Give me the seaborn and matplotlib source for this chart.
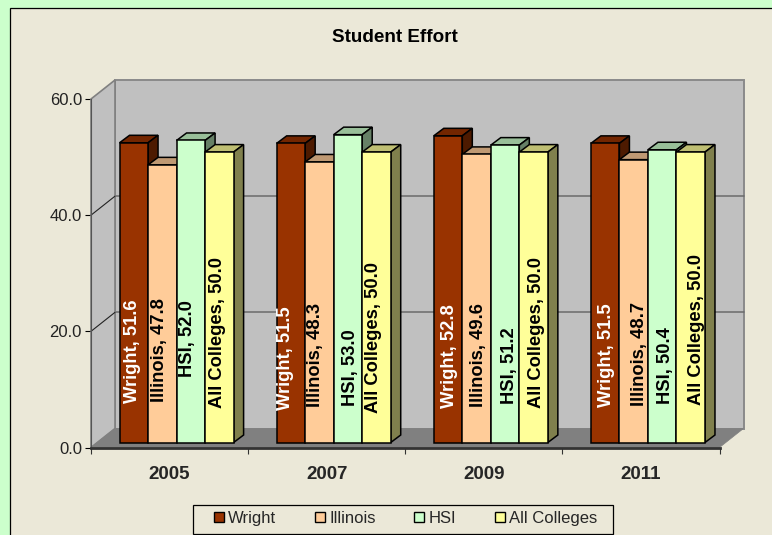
import pandas as pd
import matplotlib
matplotlib.use('Agg')
import matplotlib.pyplot as plt
import seaborn as sns
from matplotlib.colors import to_rgb
from matplotlib.patches import Polygon, Rectangle
from matplotlib.transforms import Affine2D, IdentityTransform, blended_transform_factory

W, H = 772, 535

years = ['2005', '2007', '2009', '2011']
groups = ['Wright', 'Illinois', 'HSI', 'All Colleges']
wright = [51.6, 51.5, 52.8, 51.5]
illinois = [47.8, 48.3, 49.6, 48.7]
hsi = [52.0, 53.0, 51.2, 50.4]
all_colleges = [50.0, 50.0, 50.0, 50.0]
colors = ['#993300', '#FFCC99', '#CCFFCC', '#FFFF99']
label_colors = ['white', 'black', 'black', 'black']
y_ticks = [0, 20, 40, 60]

# label centres, pixels from the top of the picture, one row per group
label_rows = [[351.5, 358, 356, 355],
              [350.5, 355, 355.5, 353.5],
              [338.5, 368, 366, 365.5],
              [333, 337.5, 332, 329.5]]
# sideways nudge of each label from the middle of its bar, pixels
label_nudge = [[-4, -8, -1, -1],
               [-5, -6, -1, 3],
               [-6, 0, 2, 1],
               [-4.5, -5, 0, 3]]

rows = []
for g, vals in zip(groups, [wright, illinois, hsi, all_colleges]):
    for yr, v in zip(years, vals):
        rows.append({'year': yr, 'group': g, 'value': v})
df = pd.DataFrame(rows)

sns.set_style('white')
plt.rcParams['font.family'] = ['Liberation Sans', 'DejaVu Sans']

BG = '#EBE8D8'
fig = plt.figure(figsize=(W / 100, H / 100), dpi=100, facecolor='#CCFFCC')

# frame, everything in pixels from the top left of the picture
def px(x, y):
    return (x, H - y)

fig.add_artist(Rectangle(px(10, 540), 800, 532, transform=IdentityTransform(),
                         facecolor=BG, edgecolor='black', linewidth=0.9, zorder=-5))

# axes = front plane of the 3d box
x0, x1, y_top, y_bot = 91, 719.5, 99, 447.5
ax = fig.add_axes([x0 / W, (H - y_bot) / H, (x1 - x0) / W, (y_bot - y_top) / H])
ax.patch.set_visible(False)

sns.barplot(data=df, x='year', y='value', hue='group', order=years, hue_order=groups,
            palette=colors, width=0.726, saturation=1, edgecolor='black', linewidth=1.1,
            legend=True, ax=ax)
ax.set_xlim(-0.5, 3.5)
ax.set_ylim(0, 60)
ax.set_xlabel('')
ax.set_ylabel('')
ax.set_yticks(y_ticks)
ax.set_yticklabels([f'{t:.1f}' for t in y_ticks])
ax.set_xticks([i - 0.5 for i in range(5)], minor=True)
ax.tick_params(axis='x', which='minor', bottom=True, length=4.5, width=0.8, color='#333333')
ax.tick_params(axis='x', which='major', bottom=False, pad=10)
ax.tick_params(axis='y', left=True, length=4.5, width=0.8, color='black', pad=2)
for t in ax.get_xticklabels():
    t.set_fontweight('bold')
    t.set_fontsize(13.5)
for t in ax.get_yticklabels():
    t.set_fontsize(12)
    t.set_color('#222222')
for s in ['top', 'right']:
    ax.spines[s].set_visible(False)
ax.spines['left'].set_color('#555555')
ax.spines['left'].set_linewidth(0.8)
ax.spines['bottom'].set_color('#333333')
ax.spines['bottom'].set_linewidth(2)
ax.spines['bottom'].set_zorder(2.5)

# box walls and floor
DX, DY = 24, 19
fig.canvas.draw()
to_disp = ax.transData.transform

def wall(pts, **kw):
    ax.add_patch(Polygon(pts, closed=True, transform=IdentityTransform(), clip_on=False, **kw))

def corners(xv, yv):
    a = to_disp((xv, yv))
    return a, a + (DX, DY)

(l0, l0b), (r0, r0b) = corners(-0.5, 0), corners(3.5, 0)
(lt, ltb), (rt, rtb) = corners(-0.5, 60), corners(3.5, 60)
wall([l0b, r0b, rtb, ltb], facecolor='#C0C0C0', edgecolor='#8A8A8A', linewidth=1.4, zorder=0.5)
wall([l0, l0b, ltb, lt], facecolor='#C0C0C0', edgecolor='#808080', linewidth=1.2, zorder=0.6)
wall([l0, r0, r0b, l0b], facecolor='#808080', edgecolor='#808080', linewidth=0.5, zorder=0.7)

for t in y_ticks[1:-1]:
    a, b = corners(-0.5, t)
    c = corners(3.5, t)[1]
    ax.plot([a[0], b[0]], [a[1], b[1]], color='#222222', lw=0.8, transform=IdentityTransform(),
            clip_on=False, zorder=0.8)
    ax.plot([b[0], c[0]], [b[1], c[1]], color='#6A6A6A', lw=1.1, transform=IdentityTransform(),
            clip_on=False, zorder=0.55)

# bars sit a bit inside the box, each one gets a top and a side face
shift = Affine2D().translate(7, 5)
bar_dx, bar_dy = 10, 7.5
n_years = len(years)
bars = [p for c in ax.containers for p in c]
for i, bar in enumerate(bars):
    g_i = i // n_years
    y_i = i % n_years
    xa, xb = bar.get_x(), bar.get_x() + bar.get_width()
    h = bar.get_height()
    pa, pb = to_disp((xa, h)), to_disp((xb, h))
    p0 = to_disp((xb, 0))
    base = 3 + g_i
    bar.set_transform(ax.transData + shift)
    bar.set_clip_on(False)
    bar.set_zorder(base + 0.5)
    rgb = to_rgb(colors[g_i])
    top = [pa, pb, pb + (bar_dx, bar_dy), pa + (bar_dx, bar_dy)]
    side = [p0, p0 + (bar_dx, bar_dy), pb + (bar_dx, bar_dy), pb]
    ax.add_patch(Polygon(top, closed=True, transform=shift, clip_on=False,
                         facecolor=[c * 0.75 for c in rgb], edgecolor='black', linewidth=1.1, zorder=base))
    ax.add_patch(Polygon(side, closed=True, transform=shift, clip_on=False,
                         facecolor=[c * 0.5 for c in rgb], edgecolor='black', linewidth=1.1, zorder=base))
    # 2.5 px because the box of rotated text includes the descenders
    label_tf = blended_transform_factory(
        ax.transData + Affine2D().translate(7 + 2.5 + label_nudge[g_i][y_i], 0), IdentityTransform())
    ax.text((xa + xb) / 2, H - label_rows[g_i][y_i], f'{groups[g_i]}, {h:.1f}', rotation=90,
            ha='center', va='center', fontsize=13.2, fontweight='bold', color=label_colors[g_i],
            transform=label_tf, zorder=20, clip_on=False)

ax.get_legend().remove()
# legend box drawn by hand, its padding is wider than it is tall
fig.add_artist(Rectangle(px(194, 535), 420, 30, transform=IdentityTransform(),
                         facecolor='#777777', edgecolor='none', zorder=1))
fig.add_artist(Rectangle(px(193, 534), 419.5, 29.5, transform=IdentityTransform(),
                         facecolor=BG, edgecolor='black', linewidth=0.9, zorder=1.1))
leg = fig.legend([Rectangle((0, 0), 1, 1, facecolor=c, edgecolor='black', linewidth=1) for c in colors], groups,
                 ncol=4, loc='center', bbox_to_anchor=(405.5 / W, (H - 518.5) / H), frameon=False, fontsize=12,
                 handlelength=0.6, handleheight=0.6, handletextpad=0.25, columnspacing=2.32,
                 borderpad=0, borderaxespad=0)
leg.set_zorder(2)

fig.text(395 / W, (H - 37) / H, 'Student Effort', ha='center', va='center',
         fontsize=13.6, fontweight='bold', color='black')

fig.savefig('out.png', dpi=100, facecolor=fig.get_facecolor())
